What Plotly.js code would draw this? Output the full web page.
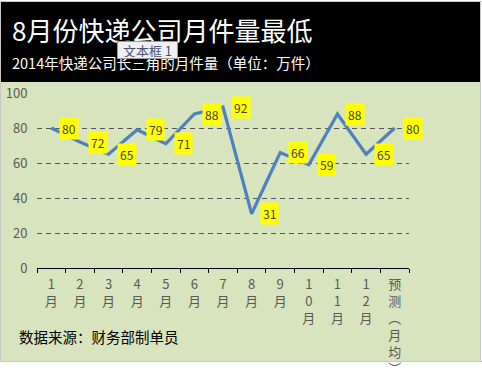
<!DOCTYPE html>
<html>
<head>
<meta charset="utf-8">
<script src="https://cdn.plot.ly/plotly-3.0.1.min.js"></script>
<style>html,body{margin:0;padding:0;background:#fff;}#chart{width:482px;height:368px;}</style>
</head>
<body>
<div id="chart"></div>
<script>
const categories = ["1<br>月","2<br>月","3<br>月","4<br>月","5<br>月","6<br>月","7<br>月","8<br>月","9<br>月","1<br>0<br>月","1<br>1<br>月","1<br>2<br>月","预<br>测<br>︵<br>月<br>均<br>︶"];
const volumes = [80, 72, 65, 79, 71, 88, 92, 31, 66, 59, 88, 65, 80];
const yTicks = [0, 20, 40, 60, 80, 100];
const titleText = "8月份快递公司月件量最低";
const subtitleText = "2014年快递公司长三角的月件量（单位：万件）";
const sourceText = "数据来源：财务部制单员";

const W = 482, H = 368;
const L = 37, R = 73, T = 93, B = 100;
const pw = W - L - R, ph = H - T - B;
function px(x){ return (x - L) / pw; }
function py(y){ return (H - B - y) / ph; }

const FONT = '"Noto Sans CJK SC", "Microsoft YaHei", sans-serif';

const annotations = volumes.map((v, i) => ({
  x: i, y: v, xref: 'x', yref: 'y', text: String(v), showarrow: false,
  xshift: 18, bgcolor: '#FFFF00', borderpad: 2,
  font: {family: FONT, size: 12, color: '#404040'}
}));
annotations.push({
  xref: 'paper', yref: 'paper', x: px(10), y: py(29), xanchor: 'left', yanchor: 'middle',
  text: titleText, showarrow: false, font: {family: FONT, size: 26, color: '#ffffff'}
});
annotations.push({
  xref: 'paper', yref: 'paper', x: px(10), y: py(63), xanchor: 'left', yanchor: 'middle',
  text: subtitleText, showarrow: false, font: {family: FONT, size: 14.5, color: '#ffffff'}
});
annotations.push({
  xref: 'paper', yref: 'paper', x: px(117), y: py(50), xanchor: 'left', yanchor: 'middle',
  text: '文本框 1', showarrow: false, bgcolor: '#eef0f4', bordercolor: '#9a9a9a', borderwidth: 1, borderpad: 1,
  width: 57, height: 14,
  font: {family: FONT, size: 13, color: '#4a5070'}
});
annotations.push({
  xref: 'paper', yref: 'paper', x: px(17), y: py(336), xanchor: 'left', yanchor: 'middle',
  text: sourceText, showarrow: false, font: {family: FONT, size: 14.5, color: '#000000'}
});

const shapes = [
  {type: 'rect', xref: 'paper', yref: 'paper', x0: px(1), x1: px(480), y0: py(82), y1: py(361), fillcolor: '#D8E4BD', line: {width: 0}, layer: 'below'},
  {type: 'rect', xref: 'paper', yref: 'paper', x0: px(1), x1: px(480), y0: py(2), y1: py(82), fillcolor: '#000000', line: {width: 0}, layer: 'below'},
  {type: 'line', xref: 'paper', yref: 'paper', x0: px(0), x1: px(482), y0: py(361.5), y1: py(361.5), line: {width: 1, color: '#c8c8c8'}, layer: 'below'},
  {type: 'line', xref: 'paper', yref: 'paper', x0: px(0.5), x1: px(0.5), y0: py(1), y1: py(362), line: {width: 1, color: '#c8c8c8'}, layer: 'below'},
  {type: 'line', xref: 'paper', yref: 'paper', x0: px(480.5), x1: px(480.5), y0: py(1), y1: py(362), line: {width: 1, color: '#c8c8c8'}, layer: 'below'},
  {type: 'line', xref: 'paper', yref: 'paper', x0: px(0), x1: px(482), y0: py(1.5), y1: py(1.5), line: {width: 1, color: '#c8c8c8'}, layer: 'below'}
];

const trace = {
  x: categories, y: volumes, type: 'scatter', mode: 'lines',
  line: {color: '#4F81BD', width: 3.2}, hoverinfo: 'none'
};

const layout = {
  width: W, height: H,
  margin: {l: L, r: R, t: T, b: B, pad: 0},
  paper_bgcolor: '#ffffff', plot_bgcolor: 'rgba(0,0,0,0)',
  showlegend: false,
  font: {family: FONT},
  xaxis: {
    type: 'category', range: [-0.5, 12.5], fixedrange: true,
    tickson: 'boundaries', ticks: 'outside', ticklen: 4, tickcolor: '#000', tickwidth: 1,
    ticklabelstandoff: 4,
    showline: true, linecolor: '#000', linewidth: 1.3, showgrid: false, zeroline: false,
    tickangle: 0, tickfont: {family: FONT, size: 13, color: '#595959'}
  },
  yaxis: {
    range: [0, 100], tickvals: yTicks, ticktext: yTicks.map(String), fixedrange: true,
    showline: false, zeroline: false, showgrid: true, gridcolor: '#555555', gridwidth: 1, griddash: '5px,4px',
    ticks: 'outside', ticklen: 6, tickcolor: 'rgba(0,0,0,0)',
    tickfont: {family: FONT, size: 13, color: '#595959'}
  },
  annotations: annotations,
  shapes: shapes
};

Plotly.newPlot('chart', [trace], layout, {displayModeBar: false, staticPlot: true});
</script>
</body>
</html>
